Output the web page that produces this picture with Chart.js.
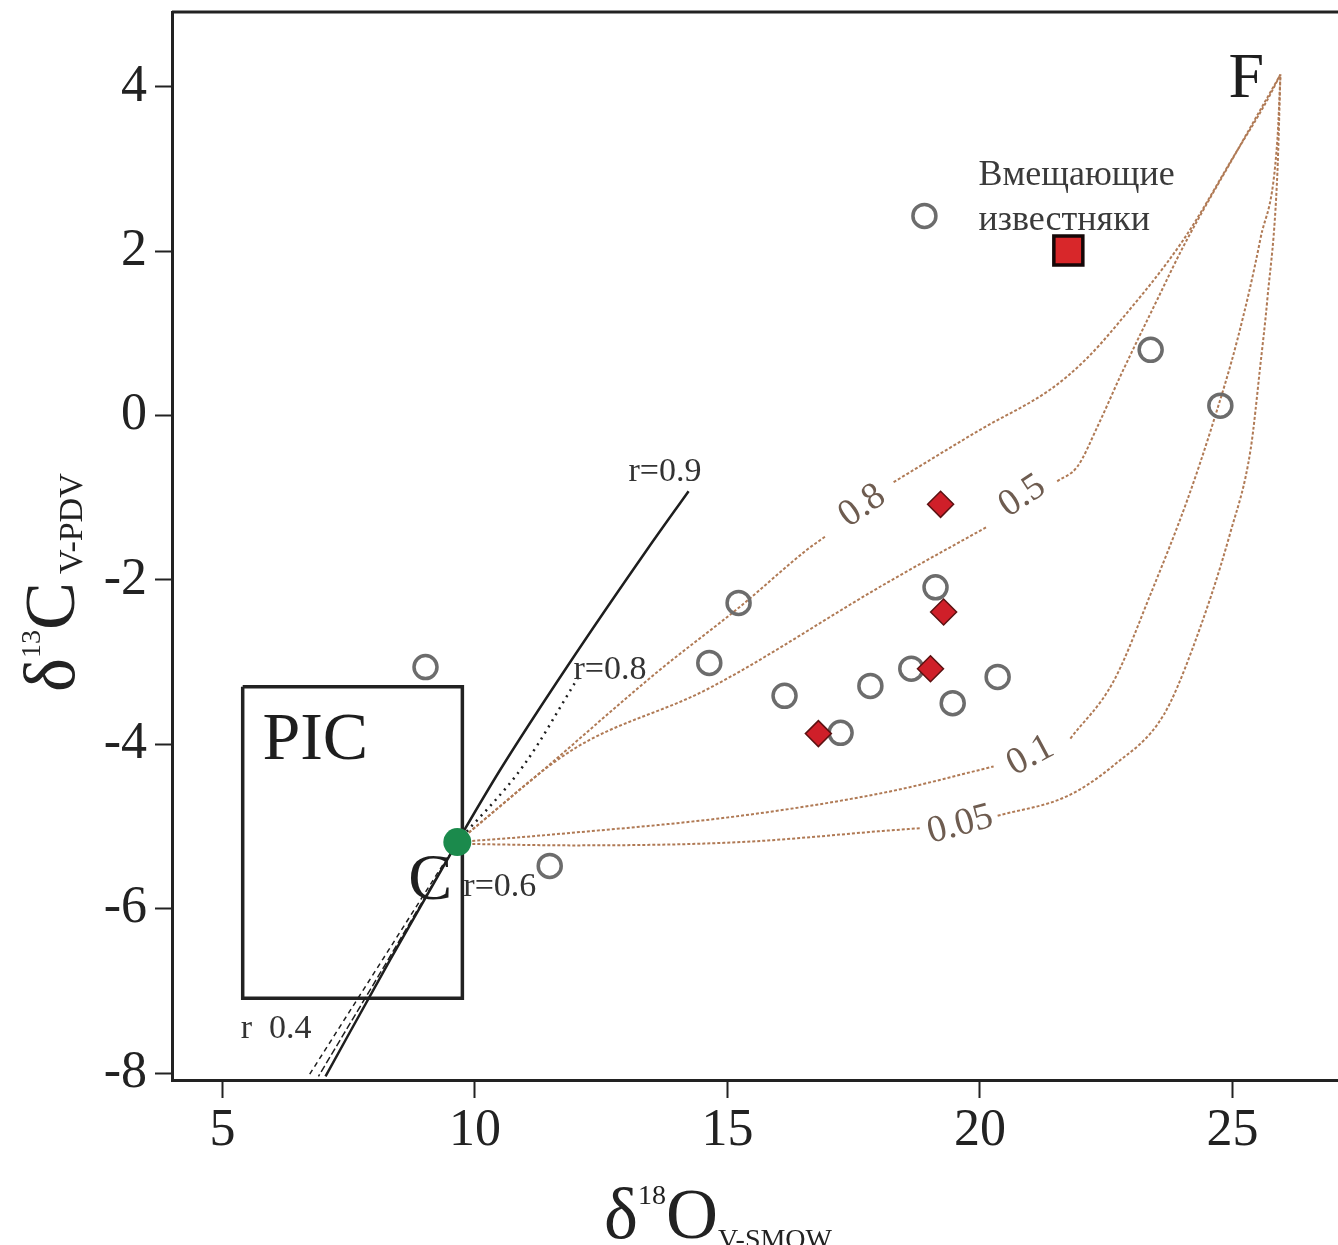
<!DOCTYPE html>
<html>
<head>
<meta charset="utf-8">
<title>δ13C – δ18O</title>
<script src="https://cdn.jsdelivr.net/npm/chart.js@4.4.1/dist/chart.umd.min.js"></script>
<style>
  html, body { margin: 0; padding: 0; background: #fff; }
  canvas { display: block; }
</style>
</head>
<body>
<canvas id="isoCanvas" width="1338" height="1245"></canvas>
<script>
// ═══════════════════════════════════════
// DATA
// ═══════════════════════════════════════
const xTicks = [5, 10, 15, 20, 25];
const yTicks = [-8, -6, -4, -2, 0, 2, 4];

// open circles — samples
const sampleO = [18.9, 23.38, 24.76, 19.12, 15.22, 14.64, 9.02, 16.13, 17.83, 18.64, 19.46, 20.35, 17.24, 11.48];
const sampleC = [2.43, 0.80, 0.12, -2.09, -2.28, -3.01, -3.06, -3.41, -3.29, -3.08, -3.50, -3.18, -3.86, -5.48];

// red diamonds
const redO = [19.22, 19.28, 19.02, 16.80];
const redC = [-1.08, -2.39, -3.08, -3.87];

// host limestone (red square)
const hostO = [21.75];
const hostC = [2.01];

// end member C (green)
const memberO = [9.65];
const memberC = [-5.19];

// mixing curves C -> F (null = gap for the label)
const mix08O = [9.65, 11.30, 13.61, 15.26, 16.58, 16.94, 17.6, 18.29, 20.01, 21.40, 22.09, 22.72, 24.03, 25.02, 25.69, 25.95];
const mix08C = [-5.19, -4.34, -3.12, -2.32, -1.63, -1.47, null, -0.81, -0.17, 0.32, 0.68, 1.11, 2.14, 3.15, 3.84, 4.15];
const mix05O = [9.65, 11.95, 14.60, 18.17, 20.15, 20.8, 21.53, 21.93, 22.33, 22.78, 23.51, 24.03, 25.10, 25.95];
const mix05C = [-5.19, -4.06, -3.33, -2.03, -1.35, null, -0.80, -0.62, -0.13, 0.48, 1.41, 2.06, 3.23, 4.15];
const mix01O = [9.65, 11.30, 15.26, 18.17, 20.27, 21.0, 21.79, 22.64, 23.38, 24.11, 24.62, 25.10, 25.55, 25.89, 25.95];
const mix01C = [-5.19, -5.11, -4.87, -4.58, -4.27, null, -3.93, -3.24, -2.17, -1.02, -0.08, 0.93, 2.14, 3.36, 4.15];
const mix005O = [9.65, 11.95, 15.26, 18.17, 18.82, 19.6, 20.35, 21.73, 22.64, 23.63, 24.20, 24.96, 25.36, 25.55, 25.69, 25.89, 25.95];
const mix005C = [-5.21, -5.23, -5.19, -5.05, -5.02, null, -4.87, -4.63, -4.26, -3.65, -2.85, -1.42, -0.41, 0.60, 1.41, 2.96, 4.15];

// r-lines through C
const r09O = [7.04, 8.33, 9.65, 10.50, 11.83, 13.42, 14.23];
const r09C = [-8.04, -6.61, -5.19, -4.31, -3.05, -1.62, -0.92];
const r08O = [9.65, 10.96, 12.05];
const r08C = [-5.19, -4.26, -3.18];
const r06O = [9.65, 8.29, 6.90];
const r06C = [-5.19, -6.61, -8.04];
const r04O = [9.65, 8.18, 6.70];
const r04C = [-5.19, -6.61, -8.04];

// PIC field
const picO = [5.40, 9.75, 9.75, 5.40, 5.40];
const picC = [-3.30, -3.30, -7.09, -7.09, -3.30];

// ═══════════════════════════════════════
// HELPERS
// ═══════════════════════════════════════
const SERIF = "'Liberation Serif', 'DejaVu Serif', serif";
const CURVE_COLOR = "#b07a55";

function pts(xs, ys) { return xs.map((x, i) => ({ x, y: ys[i] })); }

function curve(xs, ys) {
  return {
    type: "line", data: pts(xs, ys), showLine: true, spanGaps: false,
    borderColor: CURVE_COLOR, borderWidth: 2, borderDash: [3, 2],
    pointRadius: 0, cubicInterpolationMode: "monotone", fill: false,
  };
}
function blackLine(xs, ys, dash, width) {
  return {
    type: "line", data: pts(xs, ys), showLine: true,
    borderColor: "#1e1e1e", borderWidth: width || 2, borderDash: dash || [],
    pointRadius: 0, cubicInterpolationMode: "monotone", fill: false,
  };
}

// text with super/subscripts, laid out left to right
function richText(ctx, parts, x, y) {
  let cx = x;
  parts.forEach(p => {
    ctx.font = p.font;
    ctx.fillText(p.text, cx, y + (p.dy || 0));
    cx += ctx.measureText(p.text).width + (p.gap || 0);
  });
}

// annotations placed in data coordinates
const notes = [
  { text: "PIC", o: 5.79, c: -4.18, size: 68, color: "#1e1e1e" },
  { text: "C", o: 8.68, c: -5.88, size: 66, color: "#1e1e1e" },
  { text: "F", o: 24.92, c: 3.88, size: 64, color: "#1e1e1e" },
  { text: "Вмещающие", o: 19.97, c: 2.80, size: 36, color: "#3a3a3a" },
  { text: "известняки", o: 19.97, c: 2.26, size: 36, color: "#3a3a3a" },
  { text: "r=0.9", o: 13.04, c: -0.80, size: 34, color: "#333" },
  { text: "r=0.8", o: 11.95, c: -3.21, size: 34, color: "#333" },
  { text: "r=0.6", o: 9.77, c: -5.85, size: 34, color: "#333" },
  { text: "r  0.4", o: 5.36, c: -7.58, size: 34, color: "#333" },
];
const curveLabels = [
  { text: "0.8", o: 17.67, c: -1.10, angle: -35 },
  { text: "0.5", o: 20.84, c: -0.98, angle: -33 },
  { text: "0.1", o: 21.00, c: -4.14, angle: -28 },
  { text: "0.05", o: 19.61, c: -4.98, angle: -15 },
];

const annotatePlugin = {
  id: "annotate",
  afterDatasetsDraw(chart) {
    const { ctx, chartArea: a, scales: { x, y } } = chart;
    ctx.save();
    // top frame line
    ctx.strokeStyle = "#222"; ctx.lineWidth = 3;
    ctx.beginPath(); ctx.moveTo(a.left, a.top); ctx.lineTo(a.right, a.top); ctx.stroke();

    ctx.textBaseline = "alphabetic"; ctx.textAlign = "left";
    notes.forEach(n => {
      ctx.font = `${n.size}px ${SERIF}`;
      ctx.fillStyle = n.color;
      ctx.fillText(n.text, x.getPixelForValue(n.o), y.getPixelForValue(n.c));
    });

    ctx.textAlign = "center"; ctx.textBaseline = "middle";
    ctx.fillStyle = "#6e5c50";
    ctx.font = `38px ${SERIF}`;
    curveLabels.forEach(l => {
      ctx.save();
      ctx.translate(x.getPixelForValue(l.o), y.getPixelForValue(l.c));
      ctx.rotate(l.angle * Math.PI / 180);
      ctx.fillText(l.text, 0, 0);
      ctx.restore();
    });
    ctx.restore();
  },
  afterDraw(chart) {
    const ctx = chart.ctx;
    ctx.save();
    ctx.fillStyle = "#222";
    ctx.textBaseline = "alphabetic"; ctx.textAlign = "left";
    // x title: δ18O V-SMOW
    richText(ctx, [
      { text: "δ", font: `72px ${SERIF}` },
      { text: "18", font: `28px ${SERIF}`, dy: -34 },
      { text: "O", font: `72px ${SERIF}` },
      { text: "V-SMOW", font: `28px ${SERIF}`, dy: 10 },
    ], 604, 1238);
    // y title: δ13C V-PDV (rotated)
    ctx.translate(74, 692);
    ctx.rotate(-Math.PI / 2);
    richText(ctx, [
      { text: "δ", font: `72px ${SERIF}` },
      { text: "13", font: `28px ${SERIF}`, dy: -34 },
      { text: "C", font: `72px ${SERIF}`, gap: 8 },
      { text: "V-PDV", font: `34px ${SERIF}`, dy: 8 },
    ], 0, 0);
    ctx.restore();
  },
};

// ═══════════════════════════════════════
// CHART
// ═══════════════════════════════════════
const axisFont = { family: SERIF, size: 52 };

new Chart(document.getElementById("isoCanvas").getContext("2d"), {
  type: "scatter",
  data: {
    datasets: [
      { data: pts(memberO, memberC), pointStyle: "circle", pointRadius: 14,
        backgroundColor: "#1b8a4c", borderWidth: 0 },
      { data: pts(hostO, hostC), pointStyle: "rect", pointRadius: 20.5,
        backgroundColor: "#d8272a", borderColor: "#150707", borderWidth: 3.5 },
      { data: pts(redO, redC), pointStyle: "rectRot", pointRadius: 13,
        backgroundColor: "#cf1f29", borderColor: "#5b1212", borderWidth: 1.5 },
      { data: pts(sampleO, sampleC), pointStyle: "circle", pointRadius: 11.5,
        backgroundColor: "rgba(255,255,255,0)", borderColor: "#6c6c6c", borderWidth: 3.5 },
      blackLine(r09O, r09C, [], 2.5),
      blackLine(r08O, r08C, [2, 5], 2.5),
      blackLine(r06O, r06C, [7, 3], 1.5),
      blackLine(r04O, r04C, [5, 4], 1.5),
      { type: "line", data: pts(picO, picC), showLine: true, borderColor: "#222",
        borderWidth: 3.5, pointRadius: 0, tension: 0, fill: false },
      curve(mix08O, mix08C),
      curve(mix05O, mix05C),
      curve(mix01O, mix01C),
      curve(mix005O, mix005C),
    ],
  },
  options: {
    responsive: false, animation: false, devicePixelRatio: 1, events: [],
    layout: { autoPadding: false, padding: { top: 12, right: 0, left: 0, bottom: 0 } },
    plugins: { legend: { display: false }, tooltip: { enabled: false } },
    scales: {
      x: {
        type: "linear", min: 4.0, max: 27.09,
        afterBuildTicks: s => { s.ticks = xTicks.map(v => ({ value: v })); },
        afterFit: s => { s.height = 165; s.paddingLeft = 0; s.paddingRight = 0; },
        grid: { drawOnChartArea: false, drawTicks: true, tickLength: 18, tickWidth: 2, tickColor: "#222" },
        border: { display: true, color: "#222", width: 3 },
        ticks: { font: axisFont, color: "#222", padding: 2, maxRotation: 0, callback: v => String(v) },
      },
      y: {
        type: "linear", min: -8.085, max: 4.911,
        afterBuildTicks: s => { s.ticks = yTicks.map(v => ({ value: v })); },
        afterFit: s => { s.width = 172; s.paddingTop = 0; s.paddingBottom = 0; },
        grid: { drawOnChartArea: false, drawTicks: true, tickLength: 17, tickWidth: 2, tickColor: "#222" },
        border: { display: true, color: "#222", width: 3 },
        ticks: { font: axisFont, color: "#222", padding: 8, callback: v => String(v) },
      },
    },
  },
  plugins: [annotatePlugin],
});
</script>
</body>
</html>
